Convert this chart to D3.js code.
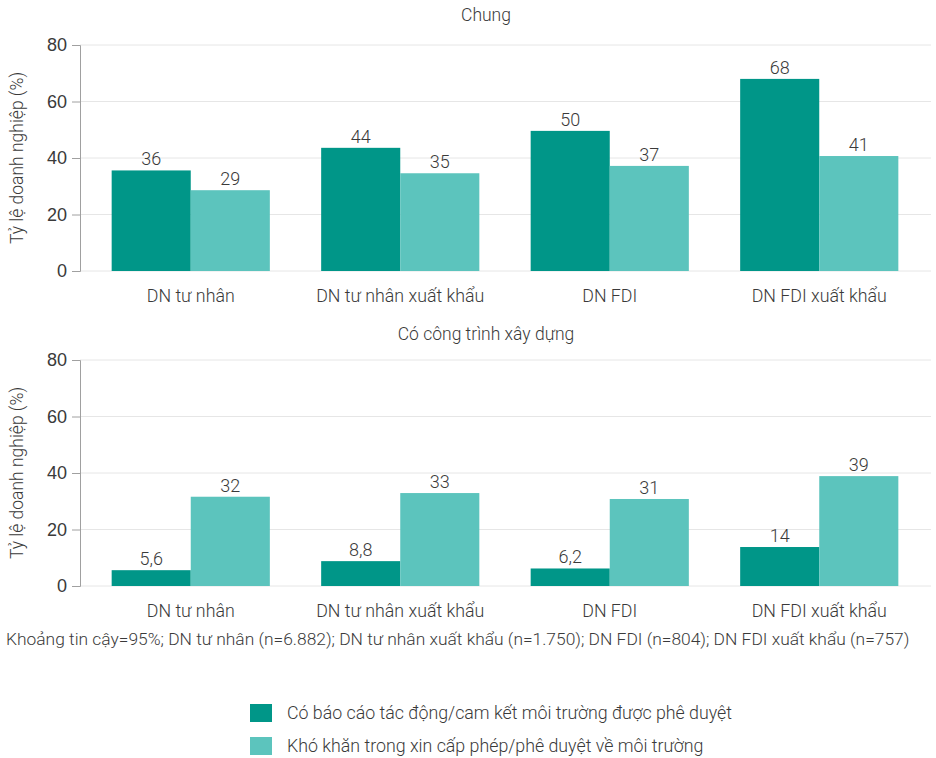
<!DOCTYPE html>
<html>
<head>
<meta charset="utf-8">
<script src="https://cdn.jsdelivr.net/npm/d3@7"></script>
<style>
  body { margin: 0; background: #fff; }
  svg { display: block; font-family: "Roboto", "Noto Sans", sans-serif; font-weight: 300; }
</style>
</head>
<body>
<svg id="chart" width="936" height="758"></svg>
<script>
const categories = ["DN tư nhân", "DN tư nhân xuất khẩu", "DN FDI", "DN FDI xuất khẩu"];
const seriesNames = ["Có báo cáo tác động/cam kết môi trường được phê duyệt", "Khó khăn trong xin cấp phép/phê duyệt về môi trường"];
const panelTitles = ["Chung", "Có công trình xây dựng"];
const chungApproved = [35.6, 43.6, 49.6, 68.0];
const chungDifficulty = [28.6, 34.6, 37.2, 40.7];
const xayDungApproved = [5.6, 8.8, 6.2, 13.8];
const xayDungDifficulty = [31.6, 32.9, 30.8, 38.9];
const yTicks = [0, 20, 40, 60, 80];
const yTitle = "Tỷ lệ doanh nghiệp (%)";
const footnote = "Khoảng tin cậy=95%; DN tư nhân (n=6.882); DN tư nhân xuất khẩu (n=1.750); DN FDI (n=804); DN FDI xuất khẩu (n=757)";
const colors = ["#009688", "#5cc4bd"];

const svg = d3.select("#chart");
const fmt = v => d3.format(".2")(v).replace(".", ",");

const panels = [
  { title: panelTitles[0], top: 45, bottom: 271, titleY: 15, data: [chungApproved, chungDifficulty] },
  { title: panelTitles[1], top: 360, bottom: 586, titleY: 334, data: [xayDungApproved, xayDungDifficulty] }
];
const left = 80, right = 931;
const textCol = "#3a3a3a";

const x = d3.scaleBand().domain(categories).range([86, 924]).paddingInner(0.245).paddingOuter(0.1225);
const xs = d3.scaleBand().domain([0, 1]).range([0, x.bandwidth()]);

panels.forEach(p => {
  const y = d3.scaleLinear().domain([0, 80]).range([p.bottom, p.top]);
  const g = svg.append("g");

  g.selectAll("line.grid").data(yTicks).join("line")
    .attr("x1", left).attr("x2", right)
    .attr("y1", d => y(d)).attr("y2", d => y(d))
    .attr("stroke", "#e6e6e6").attr("stroke-width", 1);

  const ax = g.append("g").attr("transform", `translate(${left},0)`)
    .call(d3.axisLeft(y).tickValues(yTicks).tickSize(8).tickPadding(5));
  ax.select(".domain").attr("stroke", "#a0a0a0");
  ax.selectAll(".tick line").attr("stroke", "#a0a0a0");
  ax.selectAll(".tick text").attr("fill", textCol).style("font-size", "18px")
    .style("font-family", "inherit").style("font-weight", "300");

  g.append("text")
    .attr("transform", `translate(23,${(p.top + p.bottom) / 2}) rotate(-90)`)
    .attr("text-anchor", "middle").attr("fill", textCol).style("font-size", "17.5px")
    .text(yTitle);

  g.append("text").attr("x", 486).attr("y", p.titleY).attr("dy", "0.35em")
    .attr("text-anchor", "middle").attr("fill", textCol).style("font-size", "17.5px")
    .text(p.title);

  p.data.forEach((vals, si) => {
    g.selectAll(null).data(vals).join("rect")
      .attr("x", (d, i) => x(categories[i]) + xs(si))
      .attr("width", xs.bandwidth())
      .attr("y", d => y(d))
      .attr("height", d => y(0) - y(d))
      .attr("fill", colors[si]);
    g.selectAll(null).data(vals).join("text")
      .attr("x", (d, i) => x(categories[i]) + xs(si) + xs.bandwidth() / 2)
      .attr("y", d => y(d) - 5)
      .attr("text-anchor", "middle").attr("fill", textCol).style("font-size", "18px")
      .text(d => fmt(d));
  });

  g.selectAll(null).data(categories).join("text")
    .attr("x", d => x(d) + x.bandwidth() / 2)
    .attr("y", p.bottom + 25).attr("dy", "0.35em")
    .attr("text-anchor", "middle").attr("fill", textCol).style("font-size", "17.8px")
    .text(d => d);
});

svg.append("text").attr("x", 6).attr("y", 639).attr("dy", "0.35em")
  .attr("fill", textCol).style("font-size", "17.4px").text(footnote);

const leg = svg.append("g");
seriesNames.forEach((s, i) => {
  const yy = 713 + i * 33;
  leg.append("rect").attr("x", 250).attr("y", yy - 9).attr("width", 22).attr("height", 18).attr("fill", colors[i]);
  leg.append("text").attr("x", 287).attr("y", yy).attr("dy", "0.35em")
    .attr("fill", textCol).style("font-size", "17.8px").text(s);
});
</script>
</body>
</html>
